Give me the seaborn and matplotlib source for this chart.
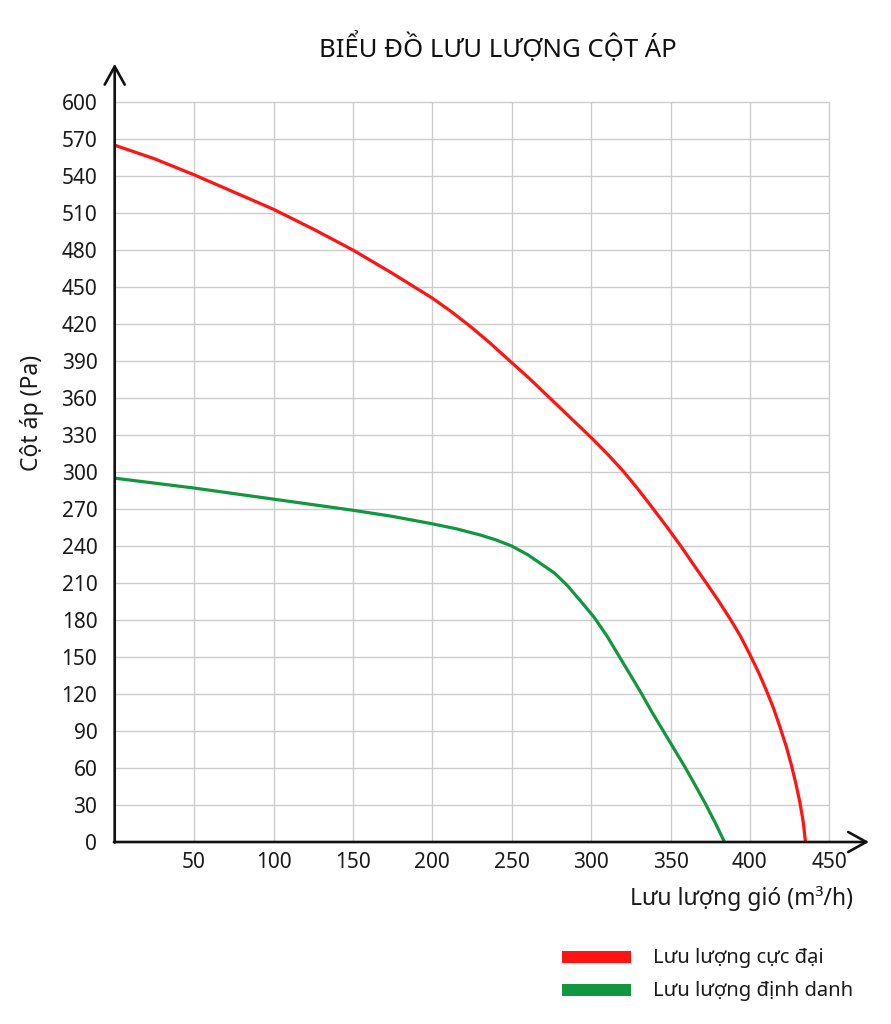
import matplotlib
matplotlib.use("Agg")
import matplotlib.pyplot as plt
import seaborn as sns
import pandas as pd
from matplotlib.patches import Rectangle

# ---- data ----
red_flow = [0, 25, 50, 75, 100, 125, 150, 175, 200, 212, 224, 236, 248, 261, 274, 287, 300,
            310, 320, 329, 338, 348, 357, 365, 372, 380, 388, 394, 400, 406, 411, 415, 419,
            423, 426, 429, 431.5, 433.5, 435]
red_pressure = [565, 554, 541, 527, 513, 497, 480, 461, 441, 430, 418, 405, 391, 376, 360, 344, 328,
                315, 301, 287, 272, 255, 239, 224, 211, 196, 180, 167, 152, 136, 121, 108, 93,
                77, 63, 47, 32, 17, 0]

green_flow = [0, 50, 100, 150, 175, 200, 215, 230, 240, 250, 260, 268, 277, 285, 293, 302,
              310, 317, 324, 331, 338, 345, 352, 359, 366, 372, 378, 384]
green_pressure = [295, 287, 278, 269, 264, 258, 254, 249, 245, 240, 233, 226, 218, 208, 196, 182,
                  167, 152, 137, 122, 106, 91, 76, 61, 45, 31, 16, 0]

series_names = ["Lưu lượng cực đại", "Lưu lượng định danh"]
series_colors = ["#ff1414", "#12963f"]

x_ticks = [50, 100, 150, 200, 250, 300, 350, 400, 450]
y_ticks = list(range(0, 601, 30))

title = "BIỂU ĐỒ LƯU LƯỢNG CỘT ÁP"
x_label = "Lưu lượng gió (m³/h)"
y_label = "Cột áp (Pa)"

# ---- build table ----
df = pd.concat([
    pd.DataFrame({"flow": red_flow, "pressure": red_pressure, "series": series_names[0]}),
    pd.DataFrame({"flow": green_flow, "pressure": green_pressure, "series": series_names[1]}),
], ignore_index=True)

sns.set_theme(style="white")
plt.rcParams["font.family"] = ["Noto Sans", "DejaVu Sans"]

W, H = 891, 1024
fig = plt.figure(figsize=(W / 100, H / 100), dpi=100)
fig.patch.set_facecolor("white")

x0_px, y0_px = 114.7, 842.0
sx, sy = 1.588, 1.2333
xmax, ymax = 475, 631
ax = fig.add_axes([x0_px / W, (H - y0_px) / H, xmax * sx / W, ymax * sy / H])
ax.set_facecolor("white")
ax.set_xlim(0, xmax)
ax.set_ylim(0, ymax)

# grid limited to the 0..450 / 0..600 area
ax.vlines(x_ticks, 0, 600, colors="#cccccc", lw=1.0, zorder=0)
ax.hlines(y_ticks[1:], 0, 450, colors="#cccccc", lw=1.0, zorder=0)

sns.lineplot(data=df, x="flow", y="pressure", hue="series",
             palette=dict(zip(series_names, series_colors)),
             sort=False, estimator=None, lw=2.3, legend=False, ax=ax, zorder=3)

for s in ax.spines.values():
    s.set_visible(False)

arrow_kw = dict(arrowstyle="->,head_length=0.65,head_width=0.36", lw=1.9,
                color="#111111", shrinkA=0, shrinkB=0, mutation_scale=20)
ax.annotate("", xy=(0, ymax), xytext=(0, -0.5), arrowprops=arrow_kw, annotation_clip=False)
ax.annotate("", xy=(xmax, 0), xytext=(-0.5, 0), arrowprops=arrow_kw, annotation_clip=False)

ax.set_xticks(x_ticks)
ax.set_yticks(y_ticks)
ax.set_xlabel("")
ax.set_ylabel("")
ax.tick_params(axis="both", length=0, labelsize=15, labelcolor="#1a1a1a")
ax.tick_params(axis="y", pad=12.5)
ax.tick_params(axis="x", pad=7.5)

fig.text(498 / W, 1 - 57 / H, title, ha="center", va="baseline", fontsize=18.5, color="#111111")
fig.text(32 / W, 1 - 413 / H, y_label, rotation=90, ha="center", va="center",
         fontsize=16.5, color="#1a1a1a", fontweight="medium")
fig.text(853 / W, 1 - 905 / H, x_label, ha="right", va="baseline", fontsize=16.5, color="#1a1a1a")

# legend
baselines = [963, 996]
for name, col, bl in zip(series_names, series_colors, baselines):
    fig.patches.append(Rectangle((561.7 / W, 1 - (bl) / H), 69.3 / W, 12.5 / H,
                                 transform=fig.transFigure, facecolor=col, edgecolor="none"))
    fig.text(653 / W, 1 - bl / H, name, ha="left", va="baseline", fontsize=14.5, color="#1a1a1a")

fig.savefig("out.png", dpi=100, facecolor="white")
